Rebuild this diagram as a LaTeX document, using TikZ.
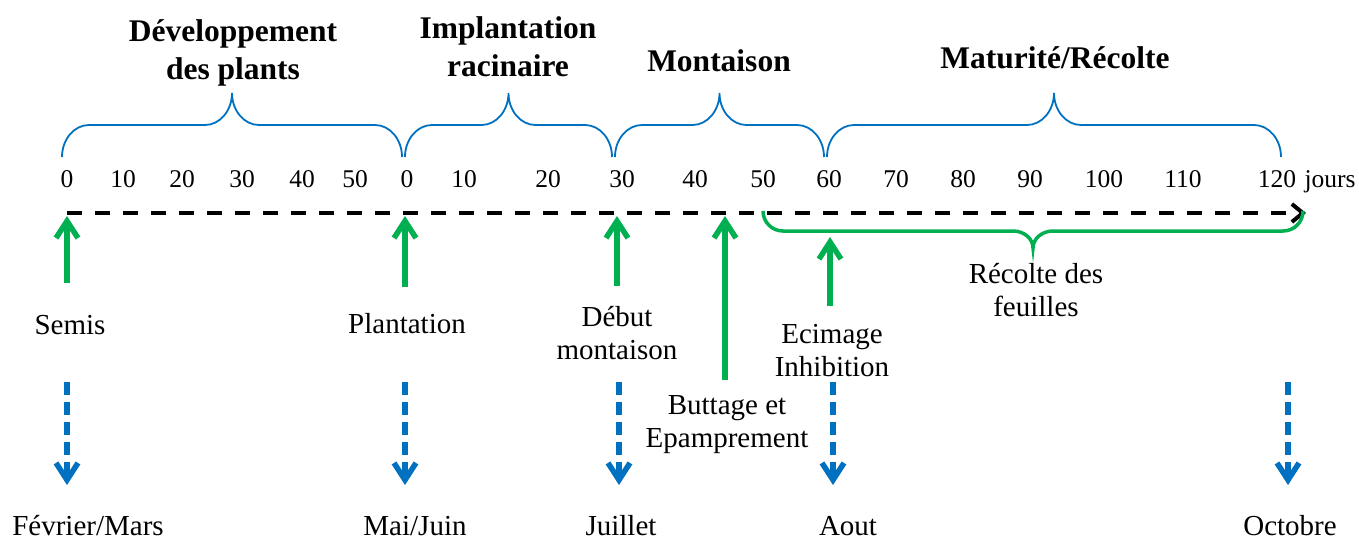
\documentclass[tikz,border=0pt]{standalone}
\usepackage{fontspec}
\setmainfont{Liberation Serif}
\usetikzlibrary{arrows.meta}
\definecolor{myblue}{RGB}{0,112,192}
\definecolor{mygreen}{RGB}{0,176,80}
% style, x1, x2, y-end, y-flat, y-tip, curve width
\newcommand{\mybrace}[7]{%
\pgfmathsetmacro\bxm{(#2+#3)/2}%
\pgfmathsetmacro\bka{#4-0.552*(#4-#5)}%
\pgfmathsetmacro\bkb{#6+0.552*(#5-#6)}%
\draw[#1] (#2,#4) .. controls (#2,\bka) and ({#2+0.448*#7},#5) .. ({#2+#7},#5)
  -- ({\bxm-#7},#5) .. controls ({\bxm-0.448*#7},#5) and (\bxm,\bkb) .. (\bxm,#6)
  .. controls (\bxm,\bkb) and ({\bxm+0.448*#7},#5) .. ({\bxm+#7},#5)
  -- ({#3-#7},#5) .. controls ({#3-0.448*#7},#5) and (#3,\bka) .. (#3,#4);}
\begin{document}
\begin{tikzpicture}[x=1pt,y=-1pt,
 num/.style={anchor=base,inner sep=0,font=\fontsize{25.5}{30}\selectfont},
 lab/.style={anchor=base,inner sep=0,align=center,font=\fontsize{29}{33}\selectfont},
 ttl/.style={anchor=base,inner sep=0,align=center,font=\fontsize{31.5}{38}\selectfont\bfseries},
 timeline/.style={line width=4pt,dash pattern=on 15pt off 13pt,-{Straight Barb[length=11pt,width=18pt]}},
 greenarrow/.style={mygreen,line width=5.5pt,-{Straight Barb[length=17pt,width=22pt]}},
 bluearrow/.style={myblue,line width=5.5pt,dash pattern=on 13pt off 7pt,-{Straight Barb[length=17pt,width=22pt]}},
 bluebrace/.style={myblue,line width=1.8pt},
 greenbrace/.style={mygreen,line width=3.5pt}]
\useasboundingbox (0,0) rectangle (1359,539);

% titles (base anchor = baseline of the last line)
\node[ttl] (t1) at (233,79) {Développement\\des plants};
\node[ttl] (t2) at (508,76) {Implantation\\racinaire};
\node[ttl] (t3) at (719,71) {Montaison};
\node[ttl] (t4) at (1055,68) {Maturité/Récolte};

% blue braces
\mybrace{bluebrace}{62}{402}{157}{125}{93}{27}
\mybrace{bluebrace}{405}{612}{157}{125}{93}{27}
\mybrace{bluebrace}{615}{824}{157}{125}{93}{27}
\mybrace{bluebrace}{827}{1281}{157}{125}{93}{27}

% numbers
\foreach \x/\t [count=\i] in {67/0,123/10,182/20,242/30,302/40,355/50,407/0,464/10,548/20,622/30,695/40,763/50,829/60,896/70,963/80,1030/90,1104/100,1183/110,1277/120}
  \node[num] (n\i) at (\x,187) {\t};
\node[num] (jours) at (1330,187) {jours};

% timeline
\coordinate (tl0) at (67,213);
\coordinate (tl1) at (1306,213);
\draw[timeline] (tl0) -- (tl1);

% green brace
\mybrace{greenbrace}{763}{1303}{211}{231}{248}{20}
\node[lab] (recolte) at (1036,316) {Récolte des\\feuilles};

% green arrows and labels
\node[lab] (semis) at (70,334) {Semis};
\node[lab] (plant) at (407,333) {Plantation};
\node[lab] (debut) at (617,359) {Début\\montaison};
\node[lab] (butt) at (727,447) {Buttage et\\Epamprement};
\node[lab] (ecim) at (832,376) {Ecimage\\Inhibition};

\coordinate (g1a) at (67,283);  \coordinate (g1b) at (67,216);
\coordinate (g2a) at (405,287); \coordinate (g2b) at (405,216);
\coordinate (g3a) at (617,286); \coordinate (g3b) at (617,216);
\coordinate (g4a) at (725,380); \coordinate (g4b) at (725,216);
\coordinate (g5a) at (830,306); \coordinate (g5b) at (830,237);
\foreach \i in {1,...,5} \draw[greenarrow] (g\i a) -- (g\i b);

% blue arrows and months
\foreach \x [count=\i] in {67,405,619,833,1288} {
  \coordinate (b\i a) at (\x,382);
  \coordinate (b\i b) at (\x,485);
  \draw[bluearrow] (b\i a) -- (b\i b);
}
\node[lab] (m1) at (88,535) {Février/Mars};
\node[lab] (m2) at (415,535) {Mai/Juin};
\node[lab] (m3) at (621,535) {Juillet};
\node[lab] (m4) at (848,535) {Aout};
\node[lab] (m5) at (1290,535) {Octobre};
\end{tikzpicture}
\end{document}
